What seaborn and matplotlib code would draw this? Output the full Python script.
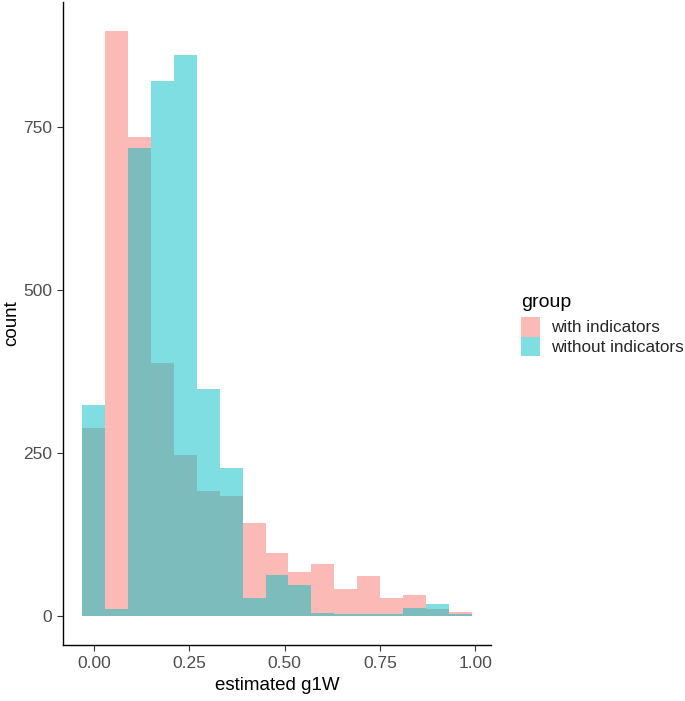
import pandas as pd
import seaborn as sns
import matplotlib.pyplot as plt
from matplotlib.patches import Patch

# histogram counts, bins of width 0.06 centred on 0, 0.06, ... 0.96
bin_centers = [0.00, 0.06, 0.12, 0.18, 0.24, 0.30, 0.36, 0.42, 0.48,
               0.54, 0.60, 0.66, 0.72, 0.78, 0.84, 0.90, 0.96]
with_indicators = [288, 897, 735, 388, 246, 191, 184, 143, 96,
                   67, 80, 41, 61, 28, 32, 11, 6]
without_indicators = [323, 11, 718, 821, 860, 348, 226, 27, 63,
                      47, 5, 3, 3, 2, 12, 18, 3]
groups = ['with indicators', 'without indicators']
colors = ['#F8766D', '#00BFC4']
x_ticks = [0.00, 0.25, 0.50, 0.75, 1.00]
x_tick_labels = ['0.00', '0.25', '0.50', '0.75', '1.00']
y_ticks = [0, 250, 500, 750]

sns.set_theme(style='ticks')
plt.rcParams['font.family'] = ['Liberation Sans', 'DejaVu Sans']

fig = plt.figure(figsize=(6.85, 7.01), dpi=100)
ax = fig.add_axes([63 / 685, 56 / 701, 428 / 685, 643 / 701])

for vals, col in zip([with_indicators, without_indicators], colors):
    df = pd.DataFrame({'g1W': bin_centers, 'count': vals})
    sns.histplot(data=df, x='g1W', weights='count', binwidth=0.06,
                 binrange=(-0.03, 0.99), color=col, alpha=0.5, linewidth=0,
                 ax=ax)

ax.set_xlim(-0.081, 1.041)
ax.set_ylim(-44.85, 941.85)
ax.set_xticks(x_ticks)
ax.set_xticklabels(x_tick_labels)
ax.set_yticks(y_ticks)
ax.tick_params(axis='both', length=4, width=0.8, color='#333333',
               labelsize=12.5, labelcolor='#4D4D4D', pad=4)
ax.set_xlabel('estimated g1W', fontsize=13.5, color='black', labelpad=4)
ax.set_ylabel('count', fontsize=13.5, color='black', labelpad=2)
for side in ['top', 'right']:
    ax.spines[side].set_visible(False)
for side in ['left', 'bottom']:
    ax.spines[side].set_linewidth(1.0)
    ax.spines[side].set_color('black')

# legend: title as its own text so the keys can sit flush under each other
fig.text(521 / 685, 1 - 307 / 701, 'group', fontsize=14, color='black',
         ha='left', va='baseline')
handles = [Patch(facecolor=c, alpha=0.5, linewidth=0) for c in colors]
fig.legend(handles, groups, loc='upper left',
           bbox_to_anchor=(521 / 685, 1 - 317 / 701), frameon=False,
           fontsize=12.3, borderpad=0, handlelength=1.14, handleheight=1.38,
           handletextpad=0.6, labelspacing=0, borderaxespad=0)

fig.savefig('out.png', dpi=100)
